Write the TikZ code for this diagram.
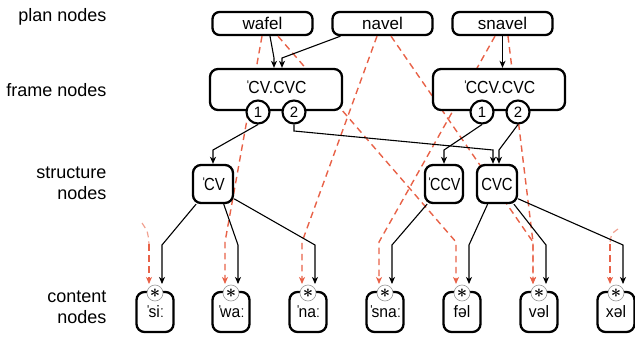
\documentclass[tikz,border=0pt]{standalone}
\usepackage{fontspec}
\setmainfont{Liberation Sans}
\usetikzlibrary{arrows.meta}
\definecolor{dred}{RGB}{232,98,72}
\newcommand\narrowtxt[2]{\scalebox{#1}[1]{#2}}
\newcommand\pstress{ˈ\kern-2.5pt}
\begin{document}
\begin{tikzpicture}[x=1pt,y=-1pt,
  box/.style={draw,line width=2.3pt,rounded corners=7pt,fill=white,inner sep=0pt},
  plannode/.style={box,minimum width=100pt,minimum height=23pt,font=\fontsize{17}{19}\selectfont},
  framenode/.style={box,minimum width=132pt,minimum height=41pt,rounded corners=8pt,font=\fontsize{17.5}{19}\selectfont},
  slotnode/.style={circle,draw,line width=2.1pt,fill=white,minimum size=23pt,inner sep=0pt,font=\fontsize{15}{17}\selectfont},
  structnode/.style={box,minimum width=40pt,minimum height=38pt,rounded corners=8pt,font=\fontsize{17.5}{19}\selectfont},
  contentnode/.style={box,minimum width=37pt,minimum height=40pt,rounded corners=8pt,font=\fontsize{16.5}{18}\selectfont},
  asterisknode/.style={circle,draw=gray!80,line width=0.6pt,fill=white,minimum size=16pt,inner sep=0pt},
  rowlabel/.style={font=\fontsize{18}{21}\selectfont,align=right,anchor=east},
  blkarrow/.style={line width=1.1pt,-{Stealth[length=7pt,width=6pt,inset=2pt]}},
  redarrow/.style={dred,line width=1.4pt,dash pattern=on 6.5pt off 4.5pt,-{Stealth[length=7pt,width=6pt,inset=2pt]}},
  fadedred/.style={dred!60,line width=1.2pt,dash pattern=on 6pt off 4pt},
  ]
\useasboundingbox (0,0) rectangle (635,337);

% row labels
\node[rowlabel] (lplan) at (110,17) {plan nodes};
\node[rowlabel] (lframe) at (110,90) {frame nodes};
\node[rowlabel] (lstruct) at (110,183) {structure\\nodes};
\node[rowlabel] (lcontent) at (110,307) {content\\nodes};

% coordinates (tips)
\foreach \n/\cx in {si/155,wa/231,na/308,sna/385,fel/462,vel/539,xel/616}{
  \coordinate (\n-b) at (\cx+7,284);
  \coordinate (\n-r) at (\cx-6,284);
}
\coordinate (fs) at (142,223);
\coordinate (fx) at (618,229);

% plan nodes
\node[plannode] (wafel) at (262.5,23.5) {wafel};
\node[plannode] (navel) at (382.5,23.5) {navel};
\node[plannode] (snavel) at (502.5,23.5) {snavel};

% red dashed links (behind the boxes)
\draw[redarrow] ([xshift=-0.5pt]wafel.south) -- (225,242) -- (wa-r);
\draw[redarrow] ([xshift=15.5pt]wafel.south) -- (456,242) -- (fel-r);
\draw[redarrow] ([xshift=-5.5pt]navel.south) -- (302,242) -- (na-r);
\draw[redarrow] ([xshift=8.5pt]navel.south) -- (533,242) -- (vel-r);
\draw[redarrow] ([xshift=-7.5pt]snavel.south) -- (379,242) -- (sna-r);
\draw[redarrow] ([xshift=5.5pt]snavel.south) -- (533,242) -- (vel-r);
\draw[fadedred] (fs) .. controls (148,232) .. (149,244);
\draw[redarrow] (149,244) -- (si-r);
\draw[fadedred] (fx) .. controls (611,234) .. (610,244);
\draw[redarrow] (610,244) -- (xel-r);

% frame nodes
\node[framenode] (cvcvc) at (276,89.5) {\raisebox{4.5pt}{\narrowtxt{0.9}{\pstress CV.CVC}}};
\node[framenode] (ccvcvc) at (499,89.5) {\raisebox{4.5pt}{\narrowtxt{0.9}{\pstress CCV.CVC}}};
\node[slotnode] (f1a) at (258,112) {1};
\node[slotnode] (f1b) at (294,112) {2};
\node[slotnode] (f2a) at (482,112) {1};
\node[slotnode] (f2b) at (518,112) {2};

% structure nodes
\node[structnode] (cv) at (213,184) {\narrowtxt{0.85}{\pstress CV}};
\node[structnode,minimum width=38pt] (ccv) at (444,184) {\narrowtxt{0.82}{\pstress CCV}};
\node[structnode] (cvc) at (497,184) {\narrowtxt{0.85}{CVC}};

% content nodes
\foreach \n/\cx/\t in {si/155/\pstress siː,wa/231/\pstress waː,na/308/\pstress naː,sna/385/\pstress snaː,fel/462/fəl,vel/539/vəl,xel/616/xəl}{
  \node[contentnode] (\n) at (\cx,312) {\raisebox{-1pt}{\narrowtxt{0.95}{\t}}};
  \node[asterisknode] (\n-ast) at (\cx,293) {\scalebox{1.8}{\boldmath$\ast$}};
}

% black links: plan -> frame
\draw[blkarrow] ([xshift=7.5pt]wafel.south) -- (274,58) -- ([xshift=-2pt]cvcvc.north);
\draw[blkarrow] ([xshift=-42pt]navel.south) -- (282,58) -- ([xshift=6pt]cvcvc.north);
\draw[blkarrow] (snavel.south) -- (snavel.south |- ccvcvc.north);

% frame slots -> structure
\draw[blkarrow] (f1a.south) -- (213,150) -- (cv.north);
\draw[blkarrow] (f1b.south) -- (294,131) -- (493,150) -- ([xshift=-4pt]cvc.north);
\draw[blkarrow] (f2a.south) -- (444,150) -- (ccv.north);
\draw[blkarrow] (f2b.south) -- (499,150) -- ([xshift=2pt]cvc.north);

% structure -> content
\draw[blkarrow] (cv.-130) -- (162,245) -- (si-b);
\draw[blkarrow] (cv.-62) -- (238,245) -- (wa-b);
\draw[blkarrow] (cv.-35) -- (315,245) -- (na-b);
\draw[blkarrow] (ccv.-130) -- (392,245) -- (sna-b);
\draw[blkarrow] (cvc.-115) -- (469,245) -- (fel-b);
\draw[blkarrow] (cvc.-50) -- (546,245) -- (vel-b);
\draw[blkarrow] (cvc.-35) -- (623,245) -- (xel-b);
\end{tikzpicture}
\end{document}
